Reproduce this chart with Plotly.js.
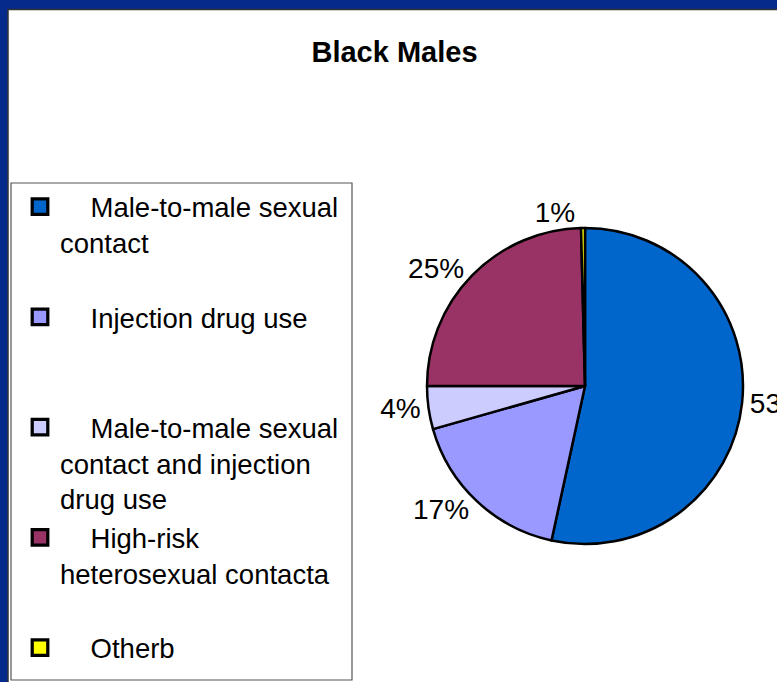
<!DOCTYPE html>
<html>
<head>
<meta charset="utf-8">
<script src="https://cdn.plot.ly/plotly-3.0.1.min.js"></script>
<style>
  html, body { margin: 0; padding: 0; background: #ffffff; }
  #chart { width: 777px; height: 682px; }
  #chart .legendpie { transform: translate(20px, 0px) scale(1.3); }
</style>
</head>
<body>
<div id="chart"></div>
<script>
// ---- data ----
const chartTitle = "Black Males";
const categoryLines = [
  ["Male-to-male sexual", "contact"],
  ["Injection drug use"],
  ["Male-to-male sexual", "contact and injection", "drug use"],
  ["High-risk", "heterosexual contacta"],
  ["Otherb"]
];
const shareValues = [53.4, 17.2, 4.4, 24.6, 0.4];
const shareLabels = ["53%", "17%", "4%", "25%", "1%"];
const sliceColors = ["#0066CC", "#9999FF", "#CCCCFF", "#993366", "#FFFF00"];

// ---- layout helpers ----
const W = 777, H = 682;
const px = v => v / W;
const py = v => 1 - v / H;
const NB = "\u00a0";
const legendLabels = categoryLines.map((lines, i) => {
  const l = lines.slice();
  l[0] = NB.repeat(4) + l[0];
  if (i < categoryLines.length - 1) { while (l.length < 3) l.push(NB); }
  return l.join("<br>");
});

const cx = 585, cy = 386, r = 158;
const FONT = "Liberation Sans, Arial, Helvetica, sans-serif";

const trace = {
  type: "pie",
  labels: legendLabels,
  values: shareValues,
  text: shareLabels,
  textinfo: "text",
  textposition: "outside",
  textfont: { family: FONT, size: 28, color: "#000000" },
  sort: false,
  direction: "clockwise",
  rotation: 0,
  marker: { colors: sliceColors, line: { color: "#000000", width: 2.5 } },
  domain: { x: [px(cx - r), px(cx + r)], y: [py(cy + r), py(cy - r)] },
  hoverinfo: "none"
};

const layout = {
  width: W, height: H,
  margin: { l: 0, r: 0, t: 0, b: 0 },
  paper_bgcolor: "#052a8c",
  font: { family: FONT, color: "#000000" },
  title: {
    text: chartTitle,
    font: { family: FONT, size: 29, weight: "bold", color: "#000000" },
    x: px(394.5), xanchor: "center",
    y: py(52), yanchor: "middle"
  },
  showlegend: true,
  legend: {
    x: px(20), xanchor: "left",
    y: py(182.3), yanchor: "top",
    valign: "top",
    bgcolor: "rgba(0,0,0,0)",
    borderwidth: 0,
    font: { family: FONT, size: 27.5, color: "#000000" },
    traceorder: "normal"
  },
  shapes: [
    { type: "rect", xref: "paper", yref: "paper", layer: "below",
      x0: px(8), x1: px(W + 10), y0: py(H + 10), y1: py(9.5),
      fillcolor: "#ffffff", line: { color: "#333333", width: 1.5 } },
    { type: "rect", xref: "paper", yref: "paper", layer: "below",
      x0: px(11), x1: px(352), y0: py(680), y1: py(183),
      fillcolor: "rgba(0,0,0,0)", line: { color: "#555555", width: 1.2 } }
  ]
};

Plotly.newPlot("chart", [trace], layout, { displayModeBar: false, staticPlot: true });
</script>
</body>
</html>
